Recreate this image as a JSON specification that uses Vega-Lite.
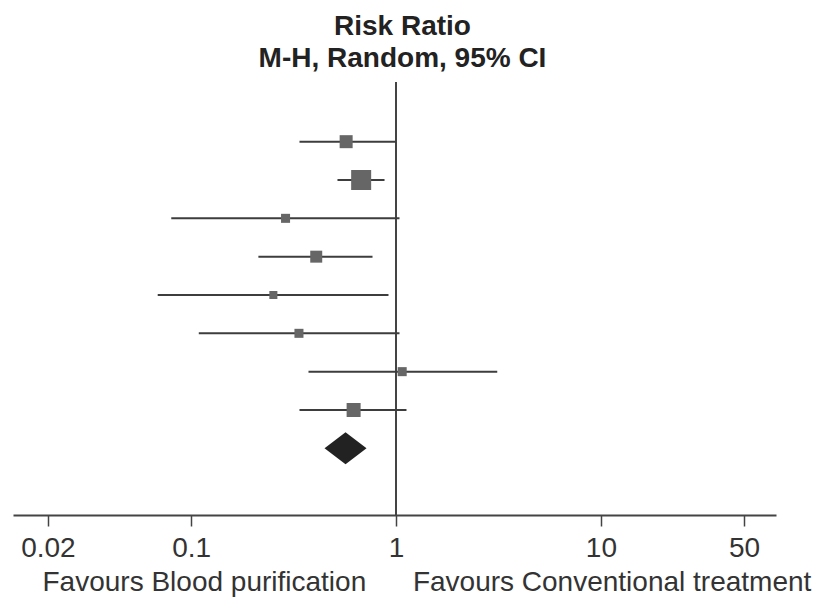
{
  "$schema": "https://vega.github.io/schema/vega-lite/v6.json",
  "autosize": {"type": "none"},
  "width": 763,
  "height": 433,
  "padding": {"left": 13, "top": 82, "right": 46, "bottom": 83},
  "background": "white",
  "config": {"view": {"stroke": null}},
  "title": {
    "text": ["Risk Ratio", "M-H, Random, 95% CI"],
    "font": "Liberation Sans",
    "fontSize": 28,
    "fontWeight": "bold",
    "color": "#222222",
    "anchor": "middle",
    "lineHeight": 32,
    "dx": 8,
    "offset": 8
  },
  "datasets": {
    "studies": [
      {"row": 1, "rr": 0.571, "lower": 0.338, "upper": 1.0, "weight": 13.9},
      {"row": 2, "rr": 0.676, "lower": 0.518, "upper": 0.879, "weight": 32.9},
      {"row": 3, "rr": 0.289, "lower": 0.08, "upper": 1.04, "weight": 6.7},
      {"row": 4, "rr": 0.408, "lower": 0.213, "upper": 0.768, "weight": 11.8},
      {"row": 5, "rr": 0.252, "lower": 0.0687, "upper": 0.919, "weight": 5.3},
      {"row": 6, "rr": 0.336, "lower": 0.109, "upper": 1.04, "weight": 6.7},
      {"row": 7, "rr": 1.072, "lower": 0.374, "upper": 3.12, "weight": 6.7},
      {"row": 8, "rr": 0.621, "lower": 0.338, "upper": 1.125, "weight": 16.1}
    ],
    "pooled": [
      {"row": 9, "rr": 0.567, "lower": 0.448, "upper": 0.72}
    ],
    "reference": [
      {"value": 1}
    ]
  },
  "layer": [
    {
      "data": {"name": "reference"},
      "mark": {"type": "rule", "color": "#444444", "strokeWidth": 2},
      "encoding": {
        "x": {
          "field": "value",
          "type": "quantitative",
          "scale": {"type": "log", "domain": [0.01351, 71.56], "nice": false},
          "axis": {
            "values": [0.02, 0.1, 1, 10, 50],
            "format": "~g",
            "grid": false,
            "domainColor": "#444444",
            "domainWidth": 2,
            "tickColor": "#444444",
            "tickWidth": 1.5,
            "tickSize": 11,
            "labelFont": "Liberation Sans",
            "labelFontSize": 28,
            "labelColor": "#333333",
            "labelBaseline": "alphabetic",
            "labelPadding": 30,
            "labelFlush": false,
            "labelOverlap": false,
            "title": "Favours Blood purification\u00a0\u00a0\u00a0\u00a0\u00a0\u00a0Favours Conventional treatment",
            "titleFont": "Liberation Sans",
            "titleFontSize": 28,
            "titleFontWeight": "normal",
            "titleColor": "#333333",
            "titleAlign": "left",
            "titleBaseline": "alphabetic",
            "titleX": 29,
            "titleY": 75
          }
        }
      }
    },
    {
      "data": {"name": "studies"},
      "mark": {"type": "rule", "color": "#3d3d3d", "strokeWidth": 2},
      "encoding": {
        "x": {"field": "lower", "type": "quantitative"},
        "x2": {"field": "upper"},
        "y": {
          "field": "row",
          "type": "quantitative",
          "scale": {"domain": [-0.557, 10.74], "reverse": true, "nice": false, "zero": false},
          "axis": null
        }
      }
    },
    {
      "data": {"name": "studies"},
      "mark": {"type": "point", "shape": "square", "filled": true, "color": "#666666", "opacity": 1},
      "encoding": {
        "x": {"field": "rr", "type": "quantitative"},
        "y": {"field": "row", "type": "quantitative"},
        "size": {
          "field": "weight",
          "type": "quantitative",
          "scale": {"type": "linear", "domain": [0, 100], "range": [0, 1216]},
          "legend": null
        }
      }
    },
    {
      "data": {"name": "pooled"},
      "mark": {
        "type": "point",
        "shape": "M-1,0L0,-0.762L1,0L0,0.762Z",
        "filled": true,
        "color": "#222222",
        "opacity": 1,
        "size": 1764
      },
      "encoding": {
        "x": {"field": "rr", "type": "quantitative"},
        "y": {"field": "row", "type": "quantitative"}
      }
    }
  ]
}
